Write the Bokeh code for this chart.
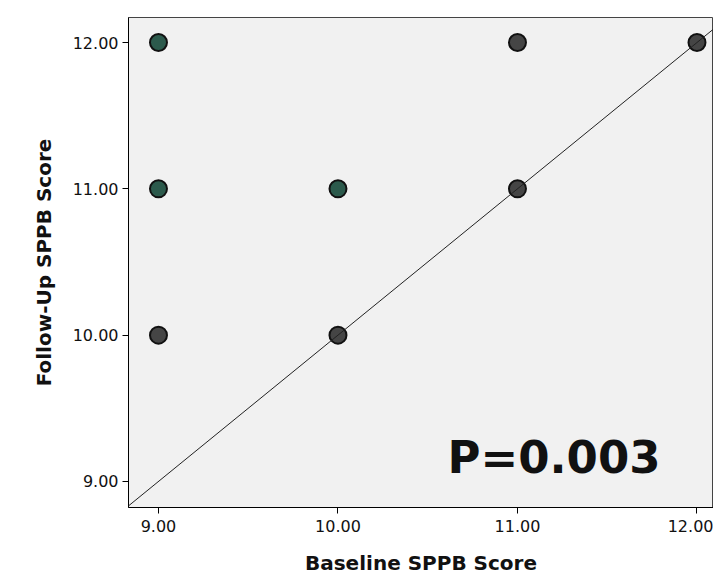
from bokeh.plotting import figure
from bokeh.models import ColumnDataSource, Label, Range1d, FixedTicker, Slope
from bokeh.embed import file_html
from bokeh.resources import INLINE

# Data
baseline = [9, 9, 9, 10, 10, 11, 11, 12]
followup = [12, 11, 10, 11, 10, 12, 11, 12]
fill_colors = ["#2c5a4c", "#2c5a4c", "#454545", "#2c5a4c", "#454545", "#454545", "#454545", "#454545"]
tick_values = [9, 10, 11, 12]
tick_labels = {9: "9.00", 10: "10.00", 11: "11.00", 12: "12.00"}
p_text = "P=0.003"

src = ColumnDataSource(dict(x=baseline, y=followup, c=fill_colors))

p = figure(width=713, height=579, output_backend="svg", toolbar_location=None,
           x_range=Range1d(8.833, 12.092), y_range=Range1d(8.822, 12.171),
           min_border_left=128, min_border_right=0, min_border_top=17, min_border_bottom=72)

p.background_fill_color = "#f1f1f1"
p.border_fill_color = "white"
p.outline_line_color = "#444444"
p.outline_line_width = 1
p.xgrid.visible = False
p.ygrid.visible = False

for ax in (p.xaxis[0], p.yaxis[0]):
    ax.ticker = FixedTicker(ticks=tick_values)
    ax.major_label_overrides = tick_labels
    ax.minor_tick_line_color = None
    ax.major_tick_out = 6
    ax.major_tick_in = 0
    ax.axis_line_color = "black"
    ax.major_tick_line_color = "black"
    ax.major_label_text_font = "DejaVu Sans"
    ax.major_label_text_font_size = "16px"
    ax.major_label_text_color = "#111111"
    ax.axis_label_text_font = "DejaVu Sans"
    ax.axis_label_text_font_size = "20px"
    ax.axis_label_text_font_style = "bold"
    ax.axis_label_text_color = "#111111"

p.xaxis.axis_label = "Baseline SPPB Score"
p.yaxis.axis_label = "Follow-Up SPPB Score"
p.xaxis.major_label_standoff = 6
p.yaxis.major_label_standoff = 4
p.xaxis.axis_label_standoff = 16
p.yaxis.axis_label_standoff = 14

# identity line
p.add_layout(Slope(gradient=1, y_intercept=0, line_color="#222222", line_width=1))

p.scatter("x", "y", source=src, size=17, fill_color="c", line_color="#111111", line_width=2)

p.add_layout(Label(x=10.61, y=9.164, text=p_text, text_font="DejaVu Sans",
                   text_font_size="45px", text_font_style="bold", text_color="#111111",
                   text_baseline="alphabetic"))

open("out.html", "w").write(file_html(p, INLINE))
